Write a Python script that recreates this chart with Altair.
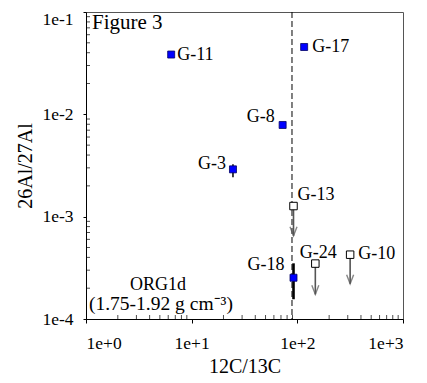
import altair as alt
import pandas as pd

# measured grains (12C/13C, 26Al/27Al)
det_names = ["G-11", "G-17", "G-8", "G-3", "G-18"]
det_c = [6.4, 116, 72.6, 24.6, 92]
det_al = [0.0384, 0.0455, 0.00787, 0.0029, 0.000253]

# error bars
err_names = ["G-3", "G-18"]
err_c = [24.6, 92]
err_lo = [0.00243, 0.000156]
err_hi = [0.00325, 0.00035]

# upper limits
lim_names = ["G-13", "G-24", "G-10"]
lim_c = [92, 148, 316]
lim_al = [0.00127, 0.000348, 0.000425]
lim_tip = [0.00065, 0.000174, 0.000221]

solar_c = [89]

x_major = [1, 10, 100, 1000]
x_labels = ["1e+0", "1e+1", "1e+2", "1e+3"]
y_major = [1e-4, 1e-3, 1e-2, 1e-1]
y_labels = ["1e-4", "1e-3", "1e-2", "1e-1"]
x_minor = [m * 10 ** k for k in range(0, 3) for m in range(2, 10)]
y_minor = [m * 10.0 ** k for k in range(-4, -1) for m in range(2, 10)]

FONT = "Times New Roman, Liberation Serif, serif"
W, H = 317, 307

det = pd.DataFrame({"name": det_names, "c": det_c, "al": det_al})
err = pd.DataFrame({"name": err_names, "c": err_c, "lo": err_lo, "hi": err_hi})
lim = pd.DataFrame({"name": lim_names, "c": lim_c, "al": lim_al, "tip": lim_tip})
solar = pd.DataFrame({"c": solar_c})
xm = pd.DataFrame({"c": x_minor})
ym = pd.DataFrame({"al": y_minor})

xscale = alt.Scale(type="log", domain=[1, 1000], nice=False)
yscale = alt.Scale(type="log", domain=[1e-4, 1e-1], nice=False)

x_expr = "[" + ",".join("'%s'" % s for s in x_labels) + "][round(log(datum.value)/LN10)]"
y_expr = "[" + ",".join("'%s'" % s for s in y_labels) + "][round(log(datum.value)/LN10)+4]"

xaxis = alt.Axis(values=x_major, labelExpr=x_expr, title="12C/13C",
                 tickSize=4, labelPadding=11, titleY=47)
yaxis = alt.Axis(values=y_major, labelExpr=y_expr, title="26Al/27Al",
                 tickSize=3, labelPadding=10, titleX=-61,
                 labelOffset={"condition": {"test": "datum.value > 0.05", "value": 7}, "value": 0})

X = lambda f, **kw: alt.X(f, type="quantitative", scale=xscale, axis=xaxis, **kw)
Y = lambda f, **kw: alt.Y(f, type="quantitative", scale=yscale, axis=yaxis, **kw)

minor_x = alt.Chart(xm).mark_tick(orient="vertical", size=4, thickness=1, color="black").encode(
    x=X("c"), y=alt.value(H - 2))
minor_y = alt.Chart(ym).mark_tick(orient="horizontal", size=4, thickness=1, color="black").encode(
    y=Y("al"), x=alt.value(2))

dashed = alt.Chart(solar).mark_rule(strokeDash=[6, 3], color="black", strokeWidth=1).encode(x=X("c"))

arrows = alt.Chart(lim).mark_rule(color="#555555", strokeWidth=1.6).encode(
    x=X("c"), y=Y("al"), y2="tip")
heads = alt.Chart(lim).mark_point(shape="M-1,-2.6L0,0L1,-2.6", size=49, filled=False,
                                  color="#555555", strokeWidth=1.4).encode(x=X("c"), y=Y("tip"))

err3 = alt.Chart(err[err.name == "G-3"]).mark_rule(color="black", strokeWidth=1.5).encode(
    x=X("c"), y=Y("lo"), y2="hi")
err18 = alt.Chart(err[err.name == "G-18"]).mark_rule(color="black", strokeWidth=2.6).encode(
    x=X("c"), y=Y("lo"), y2="hi")

open_sq = alt.Chart(lim).mark_square(size=56, fill="white", stroke="black", strokeWidth=1,
                                     opacity=1).encode(x=X("c"), y=Y("al"))
blue_sq = alt.Chart(det).mark_square(size=49, fill="#0000ff", stroke="#000066", strokeWidth=0.8,
                                     opacity=1).encode(x=X("c"), y=Y("al"))

offsets = {
    "G-11": ("left", 6, 0), "G-17": ("left", 8, 0), "G-8": ("right", -8, -8),
    "G-3": ("right", -7, -5), "G-18": ("right", -9, -13),
    "G-13": ("left", 4, -11), "G-24": ("center", 3, -11), "G-10": ("left", 8, -1),
}
allpts = pd.concat([det[["name", "c", "al"]], lim[["name", "c", "al"]]])
labels = []
for nm, (al_, dx, dy) in offsets.items():
    labels.append(
        alt.Chart(allpts[allpts.name == nm]).mark_text(
            align=al_, baseline="middle", dx=dx, dy=dy, font=FONT, fontSize=18, color="black"
        ).encode(x=X("c"), y=Y("al"), text="name:N")
    )

ann = pd.DataFrame({"t": ["Figure 3", "ORG1d", "(1.75-1.92 g cm⁻³)"]})
fig_t = alt.Chart(ann[ann.t == "Figure 3"]).mark_text(
    align="left", baseline="middle", font=FONT, fontSize=21, color="black"
).encode(x=alt.value(6), y=alt.value(11), text="t:N")
org_t = alt.Chart(ann[ann.t == "ORG1d"]).mark_text(
    align="center", baseline="middle", font=FONT, fontSize=18, color="black"
).encode(x=alt.value(72), y=alt.value(273), text="t:N")
den_t = alt.Chart(ann[ann.t.str.startswith("(")]).mark_text(
    align="left", baseline="middle", font=FONT, fontSize=19.5, color="black"
).encode(x=alt.value(3), y=alt.value(292), text="t:N")

chart = alt.layer(
    minor_x, minor_y, dashed, arrows, heads, err3, err18, open_sq, blue_sq,
    *labels, fig_t, org_t, den_t
).properties(
    width=W, height=H,
    autosize=alt.AutoSizeParams(type="none"),
    padding={"left": 78, "top": 4, "right": 16, "bottom": 62},
    background="white",
).configure_view(stroke="#555555", strokeWidth=1).configure_axis(
    grid=False, labelFont=FONT, labelFontSize=17.5, titleFont=FONT, titleFontSize=20,
    titleFontWeight="normal", titleBaseline="middle", domainColor="black",
    tickColor="black", labelColor="black", titleColor="black",
)

chart.save("out.html", embed_options={"renderer": "svg", "actions": False})
